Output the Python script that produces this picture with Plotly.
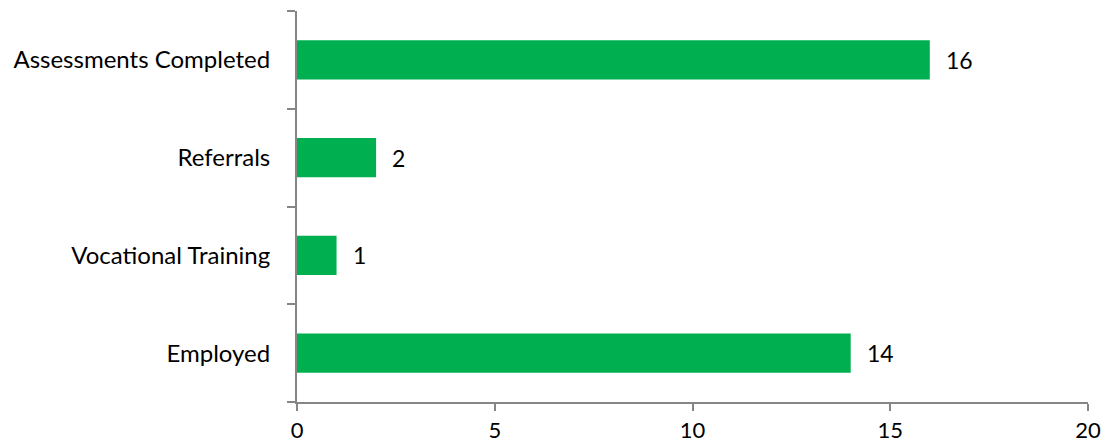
import plotly.graph_objects as go

categories = ["Assessments Completed", "Referrals", "Vocational Training", "Employed"]
values = [16, 2, 1, 14]
x_ticks = [0, 5, 10, 15, 20]

FONT = "Lato"
GREEN = "#00B050"
AXIS = "#868686"

fig = go.Figure()
fig.add_trace(go.Bar(
    y=categories, x=values, orientation="h",
    marker=dict(color=GREEN, line=dict(width=0)),
    hoverinfo="x+y",
))
for c, v in zip(categories, values):
    fig.add_annotation(x=v, y=c, text=str(v), showarrow=False,
                       xanchor="left", yanchor="middle", xshift=14,
                       font=dict(family=FONT, size=23, color="#000000"))

fig.update_layout(
    width=1114, height=446,
    margin=dict(l=297, r=26, t=11, b=44),
    paper_bgcolor="white", plot_bgcolor="white",
    bargap=0.6, showlegend=False,
    font=dict(family=FONT, size=23, color="#000000"),
)
fig.update_xaxes(range=[0, 20], tickvals=x_ticks, showgrid=False, zeroline=False,
                 showline=True, linecolor=AXIS, linewidth=2,
                 ticks="outside", ticklen=7, tickwidth=2, tickcolor=AXIS,
                 ticklabelstandoff=1, automargin=False,
                 tickfont=dict(family=FONT, size=22, color="#000000"))
fig.update_yaxes(categoryorder="array", categoryarray=categories[::-1],
                 showgrid=False, zeroline=False,
                 showline=True, linecolor=AXIS, linewidth=2,
                 ticks="outside", ticklen=8, tickwidth=2, tickcolor=AXIS,
                 tickson="boundaries", ticklabelstandoff=20, automargin=False,
                 tickfont=dict(family=FONT, size=24, color="#000000"))

fig.write_html("out.html")
